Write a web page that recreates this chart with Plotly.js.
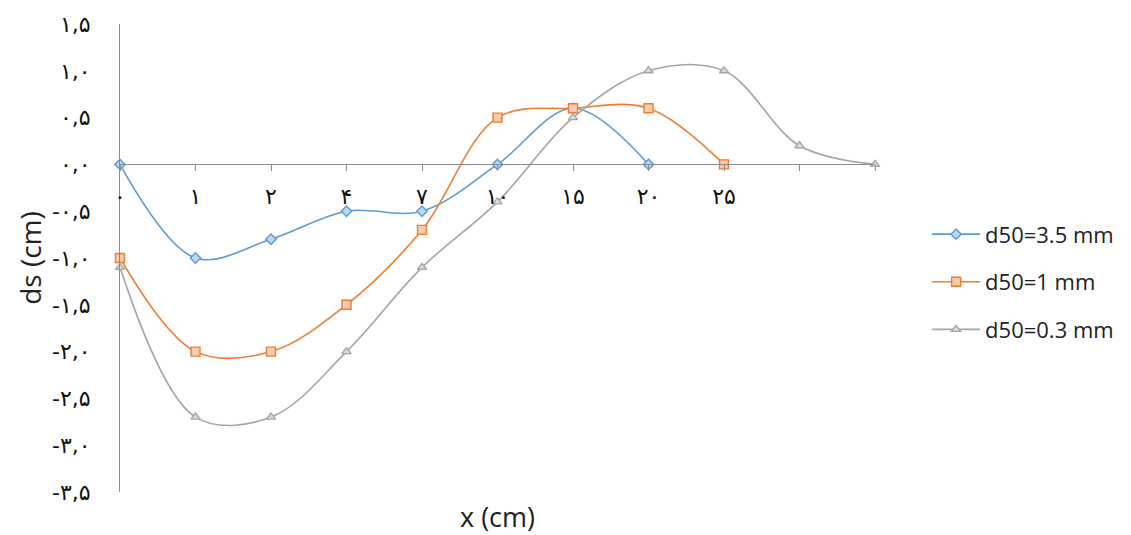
<!DOCTYPE html>
<html>
<head>
<meta charset="utf-8">
<script src="https://cdn.plot.ly/plotly-3.0.1.min.js"></script>
<style>html,body{margin:0;padding:0;background:#fff;}#chart{width:1131px;height:535px;}</style>
</head>
<body>
<div id="chart"></div>
<script>
// Category labels (x in cm, Persian digits); last two categories are unlabeled
const categories = ['۰','۱','۲','۴','۷','۱۰','۱۵','۲۰','۲۵','',''];
const seriesNames = ['d50=3.5 mm','d50=1 mm','d50=0.3 mm'];
const d50_35 = [0, -1.0, -0.8, -0.5, -0.5, 0, 0.6, 0];
const d50_1  = [-1.0, -2.0, -2.0, -1.5, -0.7, 0.5, 0.6, 0.6, 0];
const d50_03 = [-1.1, -2.7, -2.7, -2.0, -1.1, -0.4, 0.5, 1.0, 1.0, 0.2, 0];
const yTickVals = [1.5, 1.0, 0.5, 0, -0.5, -1.0, -1.5, -2.0, -2.5, -3.0, -3.5];
const yTickText = ['۱,۵','۱,۰','۰,۵','۰,۰','-۰,۵','-۱,۰','-۱,۵','-۲,۰','-۲,۵','-۳,۰','-۳,۵'];

const idx = arr => arr.map((_, i) => i);
const catIdx = idx(categories);

function mk(name, vals, color, fill, symbol, size, grp) {
  return {
    type: 'scatter', mode: 'lines+markers', name: name,
    x: idx(vals), y: vals, legendgroup: grp, cliponaxis: false,
    line: {color: color, width: 1.6, shape: 'spline', smoothing: 1},
    marker: {symbol: symbol, size: size, color: fill, line: {color: color, width: 1.4}}
  };
}

const data = [
  mk(seriesNames[0], d50_35, '#5B9BD5', '#BDD7EE', 'diamond', 8, 'a'),
  mk(seriesNames[1], d50_1, '#ED7D31', '#F8CBAD', 'square', 9, 'b'),
  mk(seriesNames[2], d50_03, '#A5A5A5', '#DBDBDB', 'triangle-up', 8, 'c')
];

const txtFont = 'Open Sans, Noto Sans, sans-serif';
const tickFont = {family: 'DejaVu Sans, sans-serif', size: 22, color: '#111'};
const layout = {
  width: 1131, height: 535,
  margin: {l: 120, r: 253, t: 24, b: 43},
  paper_bgcolor: '#fff', plot_bgcolor: '#fff',
  showlegend: true,
  legend: {x: 1.069, xanchor: 'left', y: 0.449, yanchor: 'middle',
           font: {family: txtFont, size: 22, color: '#222'},
           tracegroupgap: 16, itemwidth: 48},
  xaxis: {
    range: [0, categories.length - 1], tickvals: catIdx, ticktext: categories,
    anchor: 'free', position: 0.7,
    showline: true, linecolor: '#8c8c8c', linewidth: 1,
    ticks: 'outside', ticklen: 6, tickcolor: '#8c8c8c',
    showgrid: false, zeroline: false,
    tickfont: tickFont,
    ticklabelstandoff: 6,
    title: {text: ''}
  },
  yaxis: {
    range: [-3.5, 1.5], tickvals: yTickVals, ticktext: yTickText,
    showline: true, linecolor: '#8c8c8c', linewidth: 1,
    ticks: '', showgrid: false, zeroline: false,
    tickfont: tickFont,
    ticklabelstandoff: 24,
    title: {text: 'ds (cm)', font: {family: txtFont, size: 28, color: '#222'}, standoff: 2}
  },
  annotations: [{
    text: 'x (cm)', xref: 'paper', yref: 'paper', x: 0.5, y: 0, yshift: -24,
    xanchor: 'center', yanchor: 'middle', showarrow: false,
    font: {family: txtFont, size: 27, color: '#222'}
  }]
};

Plotly.newPlot('chart', data, layout, {displayModeBar: false, staticPlot: true});
</script>
</body>
</html>
